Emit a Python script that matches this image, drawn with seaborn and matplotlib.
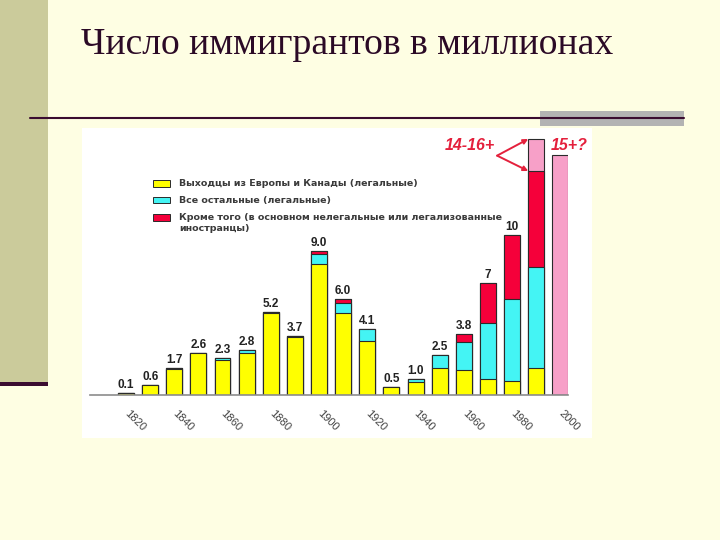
import matplotlib
matplotlib.use("Agg")
import matplotlib.pyplot as plt
from matplotlib.patches import Rectangle
from matplotlib.lines import Line2D
import seaborn as sns
import pandas as pd

# ---------------- data ----------------
positions = list(range(19))
decade_labels = ["1820", "1840", "1860", "1880", "1900", "1920", "1940", "1960", "1980", "2000"]
europe = [0.1, 0.6, 1.6, 2.6, 2.2, 2.65, 5.1, 3.6, 8.2, 5.1, 3.4, 0.5, 0.8, 1.7, 1.55, 1.0, 0.9, 1.7, 0.0]
others = [0.0, 0.0, 0.1, 0.0, 0.1, 0.15, 0.1, 0.1, 0.6, 0.65, 0.7, 0.0, 0.2, 0.8, 1.75, 3.5, 5.1, 6.3, 0.0]
extra = [0.0, 0.0, 0.0, 0.0, 0.0, 0.0, 0.0, 0.0, 0.2, 0.25, 0.0, 0.0, 0.0, 0.0, 0.5, 2.5, 4.0, 6.0, 0.0]
estimate = [0.0] * 17 + [2.0, 15.0]
value_labels = ["0.1", "0.6", "1.7", "2.6", "2.3", "2.8", "5.2", "3.7", "9.0", "6.0",
                "4.1", "0.5", "1.0", "2.5", "3.8", "7", "10", "", ""]
legend_labels = ["Выходцы из Европы и Канады (легальные)",
                 "Все остальные (легальные)",
                 "Кроме того (в основном нелегальные или легализованные\nиностранцы)"]
title = "Число иммигрантов в миллионах"

df = pd.DataFrame({"pos": positions, "europe": europe, "others": others,
                   "extra": extra, "estimate": estimate})
df["c1"] = df["europe"]
df["c2"] = df["c1"] + df["others"]
df["c3"] = df["c2"] + df["extra"]
df["c4"] = df["c3"] + df["estimate"]

# ---------------- style ----------------
sns.set_theme(style="white")
plt.rcParams["font.family"] = ["Liberation Sans", "DejaVu Sans"]

BG = "#fefee3"
OLIVE = "#cbcb9b"
DARK = "#3a0c30"
GRAY = "#b3b3b3"
YELLOW = "#ffff00"
CYAN = "#44f4f4"
RED = "#f5003a"
PINK = "#f7a0c8"
EDGE = "#2a2a2a"
ANN = "#e4203c"

W, H = 720, 540
fig = plt.figure(figsize=(7.2, 5.4), dpi=100, facecolor=BG)


def fx(px):
    return px / W


def fy(py):
    return 1 - py / H


def rect(x0, y0, x1, y1, color, z=-1, ec="none", lw=0):
    fig.add_artist(Rectangle((fx(x0), fy(y1)), fx(x1) - fx(x0), fy(y0) - fy(y1),
                             transform=fig.transFigure, facecolor=color,
                             edgecolor=ec, linewidth=lw, zorder=z))


# slide decorations
rect(0, 0, 48, 382, OLIVE)
rect(0, 382, 48, 386, DARK)
rect(540, 111, 684, 126, GRAY)
fig.add_artist(Line2D([fx(30), fx(684)], [fy(117.5), fy(117.5)], transform=fig.transFigure,
                      color=DARK, linewidth=1.5, zorder=-0.5))
rect(82, 128, 592, 438, "#ffffff")

fig.text(fx(81), fy(53.5), title, fontfamily=["Liberation Serif", "DejaVu Serif"],
         fontsize=27.1, color="#2b0a26", va="baseline", ha="left")

# ---------------- chart ----------------
px_per_unit = 24.13
x_left, x_right = 90, 568
base_y, top_y = 395, 130
ax = fig.add_axes([fx(x_left), fy(base_y), fx(x_right) - fx(x_left), (base_y - top_y) / H])
ax.patch.set_alpha(0)

bar_kw = dict(x="pos", width=0.66, saturation=1, errorbar=None,
              edgecolor=EDGE, linewidth=0.8, ax=ax)
sns.barplot(data=df, y="c4", color=PINK, **bar_kw)
sns.barplot(data=df, y="c3", color=RED, **bar_kw)
sns.barplot(data=df, y="c2", color=CYAN, **bar_kw)
sns.barplot(data=df, y="c1", color=YELLOW, **bar_kw)

x0 = -(126 - x_left) / px_per_unit
ax.set_xlim(x0, x0 + (x_right - x_left) / px_per_unit)
ax.set_ylim(0, (base_y - top_y) / 16.0)

for s in ["left", "top", "right"]:
    ax.spines[s].set_visible(False)
ax.spines["bottom"].set_color("#8c8c8c")
ax.spines["bottom"].set_linewidth(1.2)
ax.set_yticks([])
ax.set_xlabel("")
ax.set_ylabel("")
ax.set_xticks(positions[::2])
ax.set_xticklabels(decade_labels)
ax.tick_params(axis="x", length=0, pad=12, labelsize=8, labelcolor="#444444")
for lbl in ax.get_xticklabels():
    lbl.set_rotation(-45)
    lbl.set_ha("left")
    lbl.set_va("center")
    lbl.set_rotation_mode("anchor")

# value labels
for p, tot, lab in zip(df["pos"], df["c4"], value_labels):
    if lab:
        ax.annotate(lab, (p, tot), xytext=(0, 1.5), textcoords="offset points",
                    ha="center", va="bottom", fontsize=8.5, fontweight="bold",
                    color="#222222")

# annotations for the last two bars
ax.text(14.23, 15.6, "14-16+", ha="center", va="center", fontsize=11.5,
        fontweight="bold", style="italic", color=ANN)
ax.text(18.36, 15.6, "15+?", ha="center", va="center", fontsize=11.5,
        fontweight="bold", style="italic", color=ANN, clip_on=False)
left_edge = 17 - 0.33
for ty in (df["c4"][17], df["c3"][17]):
    ax.annotate("", xy=(left_edge, ty), xytext=(15.38, 14.96),
                arrowprops=dict(arrowstyle="-|>", color=ANN, lw=1.4,
                                mutation_scale=7, shrinkA=0, shrinkB=0),
                annotation_clip=False)

# legend (manual, in figure pixels)
leg_colors = [YELLOW, CYAN, RED]
row_y = [183.5, 200.0, 217.0]
line_step = 11.0
for c, lab, yc in zip(leg_colors, legend_labels, row_y):
    rect(153, yc - 3.5, 170, yc + 3.5, c, z=3, ec=EDGE, lw=0.7)
    for k, line in enumerate(lab.split("\n")):
        fig.text(fx(179), fy(yc + k * line_step), line, fontfamily=["DejaVu Sans"],
                 fontsize=6.8, fontweight="bold", color="#3a3a3a", ha="left",
                 va="center", zorder=3)

fig.savefig("out.png", dpi=100, facecolor=BG)
